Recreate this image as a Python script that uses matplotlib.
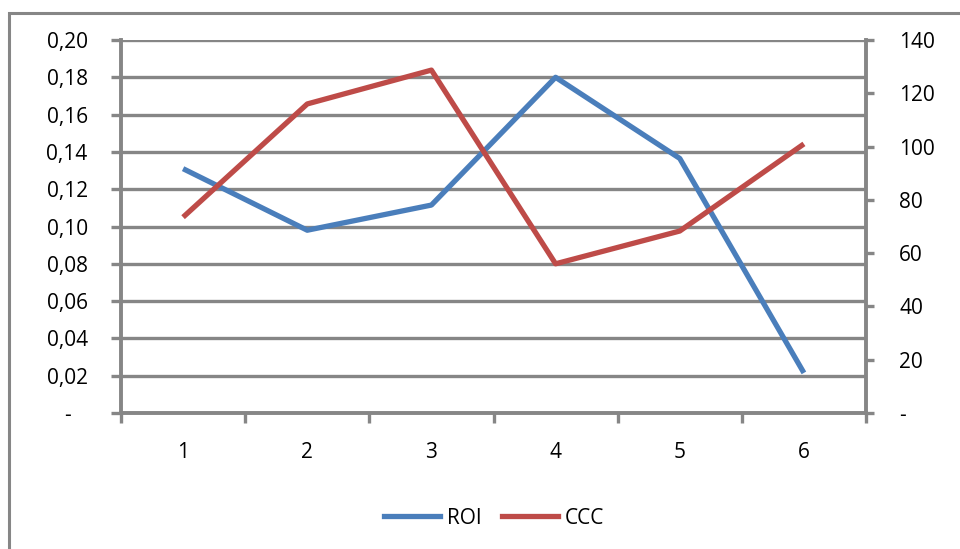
import matplotlib
matplotlib.use('Agg')
import matplotlib.pyplot as plt
from matplotlib.patches import Rectangle
from matplotlib.ticker import FuncFormatter
from matplotlib.lines import Line2D

# Datos
periods = [1, 2, 3, 4, 5, 6]
roi = [0.131, 0.098, 0.1115, 0.180, 0.1365, 0.0215]
ccc = [73.5, 116, 128.7, 56, 68.3, 101]

color_roi = '#4A7EBB'
color_ccc = '#BE4B48'
color_grid = '#868686'

plt.rcParams['font.family'] = ['Open Sans', 'DejaVu Sans']
fs = 15

fig = plt.figure(figsize=(9.6, 5.49), dpi=100)
W, H = 960, 549
ax = fig.add_axes([121 / W, 1 - 413 / H, (866 - 121) / W, (413 - 40) / H])
ax2 = ax.twinx()

# Marco exterior (cortado a la derecha y abajo)
fig.patches.append(Rectangle((9 / W, -0.2), 1.2, 1.2 - 13 / H, transform=fig.transFigure,
                             fill=False, edgecolor=color_grid, linewidth=2.2))

ax.plot(periods, roi, color=color_roi, linewidth=3.8, solid_capstyle='butt', zorder=3)
ax2.plot(periods, ccc, color=color_ccc, linewidth=3.8, solid_capstyle='butt', zorder=3)

ax.set_xlim(0.5, 6.5)
ax.set_ylim(0, 0.20)
ax2.set_ylim(0, 140)

left_ticks = [i * 0.02 for i in range(11)]
ax.set_yticks(left_ticks)
ax.yaxis.set_major_formatter(FuncFormatter(lambda v, p: '-   ' if abs(v) < 1e-9 else f'{v:.2f}'.replace('.', ',')))
ax2.set_yticks(range(0, 141, 20))
ax2.yaxis.set_major_formatter(FuncFormatter(lambda v, p: '-' if v == 0 else f'{int(v)}'))

ax.set_xticks([i + 0.5 for i in range(0, 7)])
ax.set_xticklabels([])
ax.set_xticks(periods, minor=True)
ax.set_xticklabels([str(p) for p in periods], minor=True)
ax.tick_params(axis='x', which='major', length=7, width=2.4, color=color_grid, direction='out')
ax.tick_params(axis='x', which='minor', length=0, pad=21, labelsize=fs)
ax.tick_params(axis='y', length=7, width=2.4, color=color_grid, pad=17, labelsize=fs)
ax2.tick_params(axis='y', length=6, width=2.4, color=color_grid, pad=18, labelsize=fs)

ax.grid(axis='y', color=color_grid, linewidth=2.4)
ax.set_axisbelow(True)

for a in (ax, ax2):
    a.spines['top'].set_visible(False)
    for s in ('left', 'right', 'bottom'):
        a.spines[s].set_color(color_grid)
        a.spines[s].set_linewidth(2.8)
ax.spines['right'].set_visible(False)
ax2.spines['left'].set_visible(False)
ax2.spines['bottom'].set_visible(False)
ax.patch.set_visible(False)

handles = [Line2D([], [], color=color_roi, linewidth=3.8),
           Line2D([], [], color=color_ccc, linewidth=3.8)]
fig.legend(handles, ['ROI', 'CCC'], loc='center', bbox_to_anchor=(494 / W, 1 - 518 / H),
           ncol=2, frameon=False, fontsize=fs, handlelength=2.7, handletextpad=0.3,
           columnspacing=1.0)

fig.savefig('out.png', dpi=100)
